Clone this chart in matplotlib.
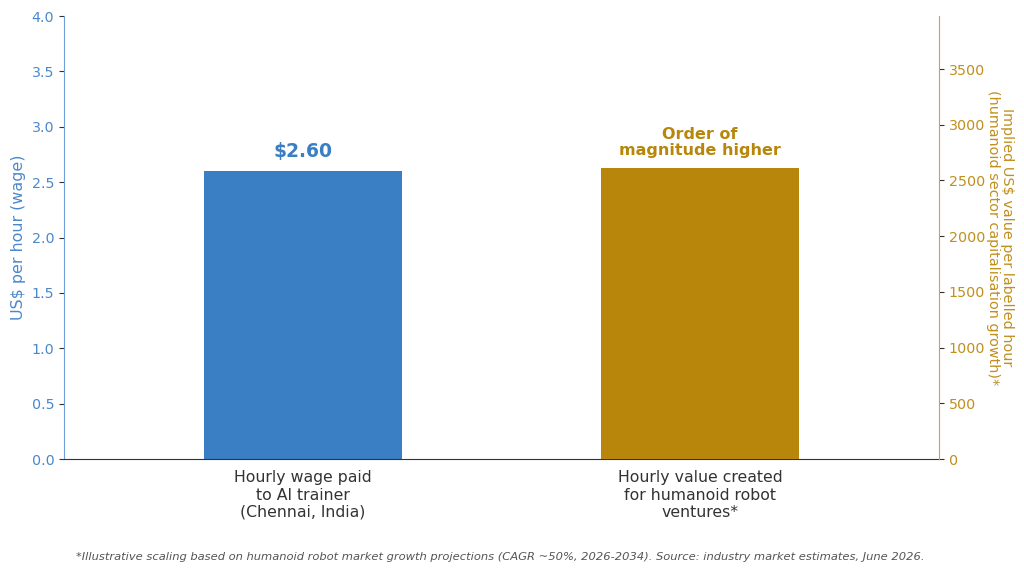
import matplotlib.pyplot as plt

# data
categories = ['Hourly wage paid\nto AI trainer\n(Chennai, India)',
              'Hourly value created\nfor humanoid robot\nventures*']
wage = 2.60            # US$ per hour, left axis
value_created = 2610   # implied US$ per labelled hour, right axis
left_ticks = [0.0, 0.5, 1.0, 1.5, 2.0, 2.5, 3.0, 3.5, 4.0]
right_ticks = [0, 500, 1000, 1500, 2000, 2500, 3000, 3500]

blue = '#3a7ec4'
gold = '#b8860b'

fig = plt.figure(figsize=(10.24, 5.74), dpi=100)
ax = fig.add_axes([0.0625, 0.2003, 0.8545, 0.7717])
ax2 = ax.twinx()

ax.bar(0, wage, width=0.5, color=blue)
ax2.bar(1, value_created, width=0.5, color=gold)

ax.set_xlim(-0.602, 1.602)
ax.set_ylim(0, 4.0)
ax2.set_ylim(0, 3975)
ax.set_yticks(left_ticks)
ax2.set_yticks(right_ticks)

ax.set_xticks([0, 1])
ax.set_xticklabels(categories, fontsize=11.3, color='#333333')
ax.tick_params(axis='x', length=0, pad=8)
ax.tick_params(axis='y', color='#333333', labelcolor='#4a88cc', labelsize=10.3)
ax2.tick_params(axis='y', color='#333333', labelcolor='#c08f1c', labelsize=10.3)

ax.set_ylabel('US$ per hour (wage)', color='#4a88cc', fontsize=11.4)
ax2.set_ylabel('Implied US$ value per labelled hour\n(humanoid sector capitalisation growth)*',
               color='#c08f1c', fontsize=10.4, rotation=270, labelpad=21, linespacing=1.0)

# spines
for a in (ax, ax2):
    a.spines['top'].set_visible(False)
ax.spines['right'].set_visible(False)
ax2.spines['left'].set_visible(False)
ax2.spines['bottom'].set_visible(False)
ax.spines['left'].set_color('#6fa0da')
ax2.spines['right'].set_color('#cfa24a')
ax.spines['bottom'].set_color('#333333')

# annotations
ax.text(0, wage + 0.09, '$2.60', ha='center', va='bottom',
        color=blue, fontsize=13.5, fontweight='bold')
ax2.text(1, value_created + 90, 'Order of\nmagnitude higher', ha='center', va='bottom',
         color=gold, fontsize=11.5, fontweight='bold', linespacing=1.1)

fig.text(0.489, 0.029,
         '*Illustrative scaling based on humanoid robot market growth projections '
         '(CAGR ~50%, 2026-2034). Source: industry market estimates, June 2026.',
         ha='center', va='center', fontsize=8.25, style='italic', color='#555555')

plt.savefig('out.png', dpi=100)
